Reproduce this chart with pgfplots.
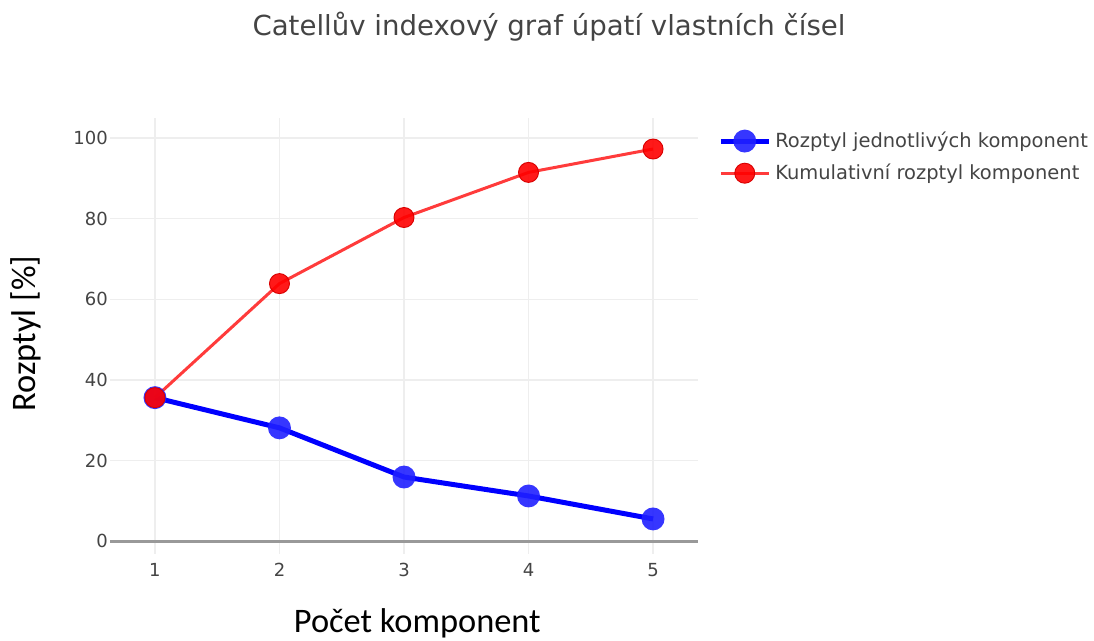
\documentclass[border=0pt]{standalone}
\usepackage{pgfplots}
\pgfplotsset{compat=1.18}
\usepackage{fontspec}
\setmainfont{DejaVu Sans}
\newfontfamily\carlito{Carlito}
\definecolor{tickgray}{HTML}{444444}
\definecolor{gridgray}{HTML}{EEEEEE}
\definecolor{zerogray}{HTML}{999999}
\definecolor{blueline}{HTML}{0000FF}
\definecolor{bluemark}{HTML}{2020FF}
\definecolor{redline}{HTML}{FF3B3B}
\definecolor{redmark}{HTML}{FF0000}
\begin{document}
\begin{tikzpicture}
\path[use as bounding box] (0,0) rectangle (820.5pt,480.75pt);
\begin{axis}[
  at={(82.5pt,65.25pt)}, anchor=south west,
  scale only axis, width=441pt, height=327pt,
  xmin=0.639, xmax=5.361, ymin=-3.2, ymax=105,
  axis line style={draw=none},
  xtick={1,2,3,4,5}, ytick={20,40,60,80,100},
  extra y ticks={0},
  extra y tick style={grid style={zerogray, line width=2.2pt}},
  major tick length=0pt,
  grid=major, grid style={gridgray, line width=1pt},
  /pgf/number format/assume math mode=true,
  tick label style={font=\fontsize{13.5}{16}\selectfont, text=tickgray, inner sep=0pt},
  xticklabel style={anchor=north, yshift=-6.75pt},
  yticklabel style={anchor=east, xshift=-1.5pt},
  legend style={font=\fontsize{14.6}{17}\selectfont, text=tickgray, draw=none, fill=none,
    at={(1.034,0.974)}, anchor=north west, row sep=8pt, inner sep=0pt,
    nodes={inner sep=0pt},
    /tikz/every odd column/.append style={column sep=3pt}},
  legend cell align=left,
  legend image code/.code={\draw[#1, mark repeat=2, mark phase=2] plot coordinates {(0pt,0pt) (18pt,0pt) (36pt,0pt)};},
]
\addplot[blueline, line width=3.75pt, mark=*, mark size=8.6pt,
  mark options={fill=bluemark, draw opacity=0, fill opacity=0.9}]
  coordinates {(1,35.6) (2,28.1) (3,15.9) (4,11.2) (5,5.5)};
\addlegendentry{Rozptyl jednotlivých komponent}
\addplot[redline, line width=2.25pt, mark=*, mark size=7.5pt,
  mark options={fill=redmark, draw=red!85!black, line width=0.7pt, fill opacity=0.9}]
  coordinates {(1,35.6) (2,63.9) (3,80.3) (4,91.5) (5,97.3)};
\addlegendentry{Kumulativní rozptyl komponent}
\end{axis}
\node[anchor=center, text=tickgray, font=\fontsize{20.7}{24}\selectfont] at (411.75pt,460.5pt) {Catellův indexový graf úpatí vlastních čísel};
\node[anchor=base, font=\carlito\fontsize{25.8}{30}\selectfont] at (313pt,6pt) {Počet komponent};
\node[anchor=base, rotate=90, font=\carlito\fontsize{25.8}{30}\selectfont] at (26.25pt,230.6pt) {Rozptyl [\%]};
\end{tikzpicture}
\end{document}
